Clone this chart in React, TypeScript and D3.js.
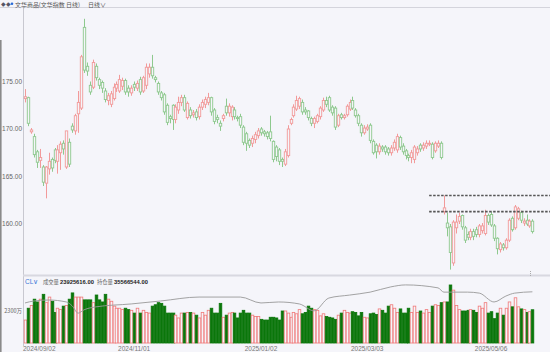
import * as d3 from 'd3';
import React, { useEffect, useRef } from 'react';

// daily candles [open, high, low, close]
const candles: number[][] = [
  [173.2,174.2,172.8,173.4],[173.3,173.4,170.3,170.6],[169.7,170.1,169.5,169.9],[169.2,169.5,167.0,167.3],
  [167.6,167.8,165.9,166.5],[166.7,167.9,165.9,167.0],[166.0,166.2,164.0,164.4],[164.3,166.1,162.7,166.0],
  [165.8,167.5,165.2,166.6],[166.8,167.0,165.5,165.9],[167.8,168.0,166.4,166.7],[166.6,168.3,165.3,167.8],
  [167.5,168.7,165.7,168.4],[168.5,168.8,167.3,167.9],[166.0,169.8,165.8,169.8],[168.6,169.0,166.0,166.3],
  [170.3,170.6,169.6,169.9],[169.8,171.6,169.4,171.4],[171.6,174.0,169.6,172.8],[172.2,177.8,172.0,177.6],
  [180.7,181.6,175.9,176.2],[176.6,177.0,175.6,176.1],[174.6,175.0,173.6,173.9],[174.4,177.3,174.2,177.0],
  [176.6,176.9,175.1,175.4],[175.2,175.4,174.2,174.6],[174.9,175.1,173.8,174.3],[174.0,174.3,172.8,173.1],
  [173.0,173.8,172.5,173.5],[172.6,174.0,172.3,173.7],[173.2,174.8,173.0,174.4],[174.3,175.0,173.9,174.7],
  [174.0,175.7,173.8,175.2],[174.5,175.4,174.1,175.1],[175.1,175.3,173.6,173.9],[174.3,174.6,173.4,173.9],
  [173.8,174.6,173.5,174.3],[174.7,175.0,174.0,174.4],[174.3,175.1,174.0,174.8],[175.2,175.5,173.6,173.9],
  [174.0,175.6,173.8,175.4],[174.6,176.9,174.2,176.5],[175.8,176.9,175.4,176.5],[176.5,177.8,175.3,175.6],
  [175.4,175.6,174.9,175.2],[174.8,175.0,173.6,173.9],[173.8,174.0,173.0,173.3],[173.6,173.8,171.5,171.8],
  [172.5,172.7,170.4,170.7],[171.3,171.5,170.6,171.1],[172.5,172.6,169.9,171.0],[171.0,172.6,170.6,172.3],
  [172.0,173.4,171.6,172.8],[172.8,173.6,172.4,173.3],[173.3,173.6,171.8,172.0],[171.2,172.9,171.0,172.7],
  [172.0,172.3,171.1,171.4],[171.5,172.0,171.2,171.7],[171.8,172.1,170.9,171.2],[171.3,172.6,171.0,172.3],
  [172.3,173.1,172.0,172.8],[172.6,173.4,172.2,173.1],[172.8,173.8,172.5,173.3],[173.3,173.4,171.4,171.8],
  [172.0,172.2,170.5,170.8],[171.2,171.5,170.6,171.0],[170.6,170.9,169.8,170.3],[171.1,171.6,170.8,171.4],
  [172.4,173.2,171.4,171.7],[171.7,172.7,171.3,172.4],[171.3,172.5,170.9,172.3],[172.0,172.3,171.0,171.3],
  [171.2,171.4,170.8,171.1],[171.3,171.6,170.1,170.4],[170.2,170.4,168.3,168.6],[169.5,169.7,167.7,168.5],
  [168.8,169.0,168.0,168.3],[168.5,169.3,168.1,169.0],[168.9,169.7,168.5,169.4],[169.3,170.1,169.0,169.8],
  [170.0,170.2,169.3,169.6],[169.7,169.9,169.2,169.5],[169.6,169.8,168.9,169.2],[169.7,171.4,168.7,169.0],
  [168.7,168.8,166.5,166.8],[168.1,168.3,166.6,167.1],[167.8,168.0,166.2,166.6],[166.8,167.0,166.0,166.6],
  [166.3,167.9,166.1,167.6],[167.2,170.4,167.0,170.0],[170.6,171.2,170.4,171.0],[171.4,172.6,171.2,172.3],
  [172.1,173.5,171.9,173.0],[172.4,173.4,172.1,173.2],[172.8,173.1,171.5,171.8],[172.0,172.3,171.5,171.8],
  [171.9,172.0,170.9,171.2],[171.1,171.3,170.3,170.6],[170.6,171.3,170.1,171.1],[170.8,171.6,170.6,171.4],
  [171.3,172.4,171.0,172.2],[172.0,173.3,171.8,173.0],[173.0,173.4,172.3,172.6],[173.3,173.5,171.8,172.0],
  [172.3,172.5,171.4,171.7],[172.2,172.4,169.9,170.2],[170.4,171.6,170.2,171.4],[171.5,171.7,171.0,171.2],
  [171.2,171.6,171.0,171.4],[171.5,172.6,171.3,172.4],[172.1,173.1,171.9,172.8],[173.0,173.4,172.0,172.2],
  [172.0,172.2,171.2,171.4],[171.4,171.6,170.3,170.6],[170.4,170.6,169.2,169.6],[169.6,170.4,169.4,170.1],
  [170.0,170.5,169.8,170.2],[170.4,170.6,168.5,168.8],[168.7,168.9,167.3,167.5],[168.3,168.5,166.9,167.6],
  [167.6,168.5,167.3,168.2],[168.1,168.3,167.6,167.9],[168.1,168.3,167.3,167.6],[167.9,168.1,167.2,167.5],
  [167.5,168.3,167.2,168.0],[168.0,168.9,167.7,168.6],[167.8,169.5,167.5,169.2],[169.1,169.3,167.8,168.1],
  [168.2,168.5,167.3,167.6],[167.7,167.9,166.8,167.2],[167.2,167.4,166.6,167.0],[167.0,167.8,166.4,167.5],
  [166.8,168.3,166.4,168.1],[167.5,168.2,167.2,167.9],[168.3,168.5,167.6,167.9],[168.0,168.6,167.7,168.3],
  [168.2,168.8,167.9,168.5],[168.4,168.8,168.2,168.5],[168.4,168.6,166.8,167.0],[167.7,168.7,167.5,168.5],
  [168.2,168.8,168.0,168.5],[168.5,168.7,166.8,167.0],[161.3,163.0,161.0,161.7],[160.1,161.2,158.7,159.6],
  [159.7,160.0,155.2,157.0],[155.9,160.4,155.6,160.2],[159.6,161.0,159.0,160.2],[160.3,161.2,160.0,160.8],
  [160.9,161.0,159.4,159.7],[159.6,159.8,158.0,158.3],[158.9,159.2,158.3,158.6],[158.6,159.5,158.3,159.2],
  [159.2,159.5,158.3,158.7],[159.4,159.7,158.6,158.9],[158.9,160.0,158.6,159.8],[159.3,160.1,159.0,159.8],
  [159.0,161.5,158.8,160.9],[160.9,161.1,159.9,160.2],[161.0,161.3,159.7,159.9],[159.8,160.0,158.2,158.5],
  [158.5,158.6,156.8,157.4],[157.3,158.1,157.0,157.9],[157.8,158.0,157.2,157.5],[157.5,158.5,157.3,158.3],
  [158.3,160.6,158.1,160.4],[160.6,160.8,159.2,159.4],[159.6,162.0,159.4,161.8],[160.6,161.8,160.4,161.6],
  [161.2,161.4,160.1,160.4],[160.1,160.6,159.8,160.3],[160.4,161.0,159.8,160.0],[159.8,160.5,159.6,160.3],
  [160.3,160.5,159.0,159.2],
];

// volume, millions
const volumes = [
  16.5,25,27,31.5,29.5,31.5,35,29,33,30,22,25,24,26.5,27,31.5,36,33,33,33,
  31,31,31,29,34.5,31,29.5,35,31.5,30,26.5,25,25,24,25,24,23.5,21.5,25,21.5,
  23.5,22,21.5,26.5,27.5,29,28.5,26.5,21.5,21.5,21.5,20,18,21.5,21.5,22,22,21.5,20,18,
  22,20,23.5,25,21.5,21.5,28.5,18.5,20,21.5,22,21.5,18,21.5,23.5,21.5,21.5,20,19,19,
  17,16.5,16.5,18.5,18.5,18,16.5,23,23,21.5,18.5,22,21,24,21,22,26.5,25,24,23.5,
  19.5,21,19,18.5,18,17,20,21.5,23.5,22,21.5,22.5,22,19.5,22,18.5,18,21,21.5,20.5,
  24.5,23.5,21.5,26.5,27.5,25,22,24.5,21.5,21.5,25,22,26.5,22,23,21.5,24,22,26.5,27.5,
  27,29,29.5,29.5,41.7,38,27,24,23,23,23.5,24,23.5,22,26.5,25,29,21.5,22.5,17.5,
  21.5,25,20,25,29.5,26,32.5,26,24.5,24,22,22.5,23.9,
];

// open interest, read at a few candles (millions)
const oiIndex = [0,3,8,14,16,18,20,24,36,46,59,73,80,86,93,98,103,110,117,124,129,140,142,150,154,159,163,166,172];
const oiValue = [32.2,32.8,33.1,32.5,31.3,29.1,30.1,31.0,31.9,32.8,34.0,34.0,32.2,32.5,31.9,29.8,33.7,34.6,35.5,37.1,37.7,36.8,35.5,35.5,35.2,32.5,34.3,35.2,35.6];

const priceTicks = [160, 165, 170, 175];
const dateLabels = ['2024/09/02', '2024/11/01', '2025/01/02', '2025/03/03', '2025/05/06'];
const dateIndex = [0, 37, 80, 116, 158];
const levels = [163.0, 161.3];
const levelStart = 137;

const UP = '#f29a9a';
const DOWN = '#8ec98e';
const BG = '#f5f5fa';

function App() {
  const ref = useRef<SVGSVGElement>(null);

  useEffect(() => {
    const svg = d3.select(ref.current);
    svg.selectAll('*').remove();

    const N = candles.length;
    const x = d3.scaleLinear().domain([0, N - 1]).range([25, 532.4]);
    const y = d3.scaleLinear().domain([160, 175]).range([224, 81.5]);
    const yVol = d3.scaleLinear().domain([0, 46]).range([343, 279]);
    const yOI = d3.scaleLinear().domain([20, 39.5]).range([343, 279]);
    const font = 'Liberation Sans, Arial, sans-serif';
    const cjk = 'Noto Sans CJK SC, sans-serif';

    svg.append('rect').attr('width', 550).attr('height', 352).attr('fill', BG);

    // frame lines
    svg.append('line').attr('x1', 0).attr('x2', 550).attr('y1', 7.5).attr('y2', 7.5)
      .attr('stroke', '#d4d4dc').attr('stroke-width', 1);
    svg.append('line').attr('x1', 23.5).attr('x2', 23.5).attr('y1', 7).attr('y2', 346)
      .attr('stroke', '#c8c8d0').attr('stroke-width', 1);
    svg.append('line').attr('x1', 23).attr('x2', 550).attr('y1', 275.5).attr('y2', 275.5)
      .attr('stroke', '#d8d8e0').attr('stroke-width', 2);
    svg.append('line').attr('x1', 0.8).attr('x2', 0.8).attr('y1', 40).attr('y2', 352)
      .attr('stroke', '#8a8a8a').attr('stroke-width', 1.6);
    svg.append('line').attr('x1', 530.5).attr('x2', 530.5).attr('y1', 271).attr('y2', 277)
      .attr('stroke', '#aaa').attr('stroke-dasharray', '1,1');

    // title
    svg.append('text').attr('x', 1).attr('y', 6).attr('font-size', 5.5).attr('fill', '#556')
      .attr('font-family', font).text('◆◆');
    svg.append('circle').attr('cx', 12).attr('cy', 3.8).attr('r', 1.3).attr('fill', '#2a6ad8');
    svg.append('text').attr('x', 15).attr('y', 6.6).attr('font-size', 6).attr('fill', '#555')
      .attr('font-family', cjk).attr('textLength', 65).attr('lengthAdjust', 'spacingAndGlyphs')
      .text('文华商品(文华指数 日线)');
    svg.append('text').attr('x', 88).attr('y', 6.6).attr('font-size', 6).attr('fill', '#555')
      .attr('font-family', cjk).text('日线∨');

    // price axis labels
    svg.selectAll('.ptick').data(priceTicks).enter().append('text')
      .attr('x', 22).attr('y', d => y(d) + 2.3)
      .attr('text-anchor', 'end').attr('font-size', 6.5).attr('fill', '#666')
      .attr('font-family', font).text(d => d3.format('.2f')(d));

    // candles
    const g = svg.append('g');
    candles.forEach((c, i) => {
      const [o, h, l, cl] = c;
      const col = cl >= o ? UP : DOWN;
      const cx = Math.round(x(i)) + 0.5;
      g.append('line').attr('x1', cx).attr('x2', cx).attr('y1', y(h)).attr('y2', y(l))
        .attr('stroke', col).attr('stroke-width', 1);
      const top = y(Math.max(o, cl));
      const hgt = Math.max(1, Math.abs(y(o) - y(cl)));
      g.append('rect').attr('x', cx - 1.2).attr('y', top).attr('width', 2.4).attr('height', hgt)
        .attr('fill', BG).attr('stroke', col).attr('stroke-width', 0.9);
    });

    // dashed levels
    levels.forEach(v => {
      svg.append('line').attr('x1', x(levelStart)).attr('x2', 550).attr('y1', y(v)).attr('y2', y(v))
        .attr('stroke', '#555').attr('stroke-width', 1.6).attr('stroke-dasharray', '2.5,1.5');
    });

    // volume bars
    volumes.forEach((v, i) => {
      const c = candles[i];
      const up = c[3] >= c[0];
      const cx = Math.round(x(i)) + 0.5;
      svg.append('rect').attr('x', cx - 1.3).attr('y', yVol(v)).attr('width', 2.6)
        .attr('height', yVol(0) - yVol(v))
        .attr('fill', up ? BG : '#0a760a').attr('stroke', up ? '#f07878' : '#0a760a')
        .attr('stroke-width', 0.8);
    });

    // open interest line
    const oiLine = d3.line<number>().x((d, k) => x(oiIndex[k])).y(d => yOI(d)).curve(d3.curveMonotoneX);
    svg.append('path').attr('d', oiLine(oiValue)).attr('fill', 'none')
      .attr('stroke', '#999').attr('stroke-width', 0.9);

    // volume legend
    const leg = svg.append('g');
    leg.append('text').attr('x', 25).attr('y', 284).attr('font-size', 6.5).attr('fill', '#3d78d8')
      .attr('font-family', font).text('CL∨');
    leg.append('text').attr('x', 43).attr('y', 284).attr('fill', '#666').attr('font-family', cjk)
      .attr('font-size', 5.3).text('成交量');
    leg.append('text').attr('x', 60).attr('y', 284).attr('fill', '#222').attr('font-family', font)
      .attr('font-size', 5.8).attr('font-weight', 'bold').text('23925616.00');
    leg.append('text').attr('x', 97).attr('y', 284).attr('fill', '#666').attr('font-family', cjk)
      .attr('font-size', 5.3).text('持仓量');
    leg.append('text').attr('x', 114).attr('y', 284).attr('fill', '#222').attr('font-family', font)
      .attr('font-size', 5.8).attr('font-weight', 'bold').text('35566544.00');

    svg.append('text').attr('x', 22).attr('y', yVol(23) + 2).attr('text-anchor', 'end')
      .attr('font-size', 5.5).attr('fill', '#666').attr('font-family', cjk).text('2300万');

    // date labels
    dateLabels.forEach((d, k) => {
      const first = k === 0;
      svg.append('text').attr('x', first ? 23 : x(dateIndex[k])).attr('y', 351)
        .attr('text-anchor', first ? 'start' : 'middle')
        .attr('font-size', 6.5).attr('fill', '#777').attr('font-family', font).text(d);
    });
  }, []);

  return (
    <svg ref={ref} width={550} height={352} style={{ position: 'absolute', left: 0, top: 0 }} />
  );
}

export default App;
